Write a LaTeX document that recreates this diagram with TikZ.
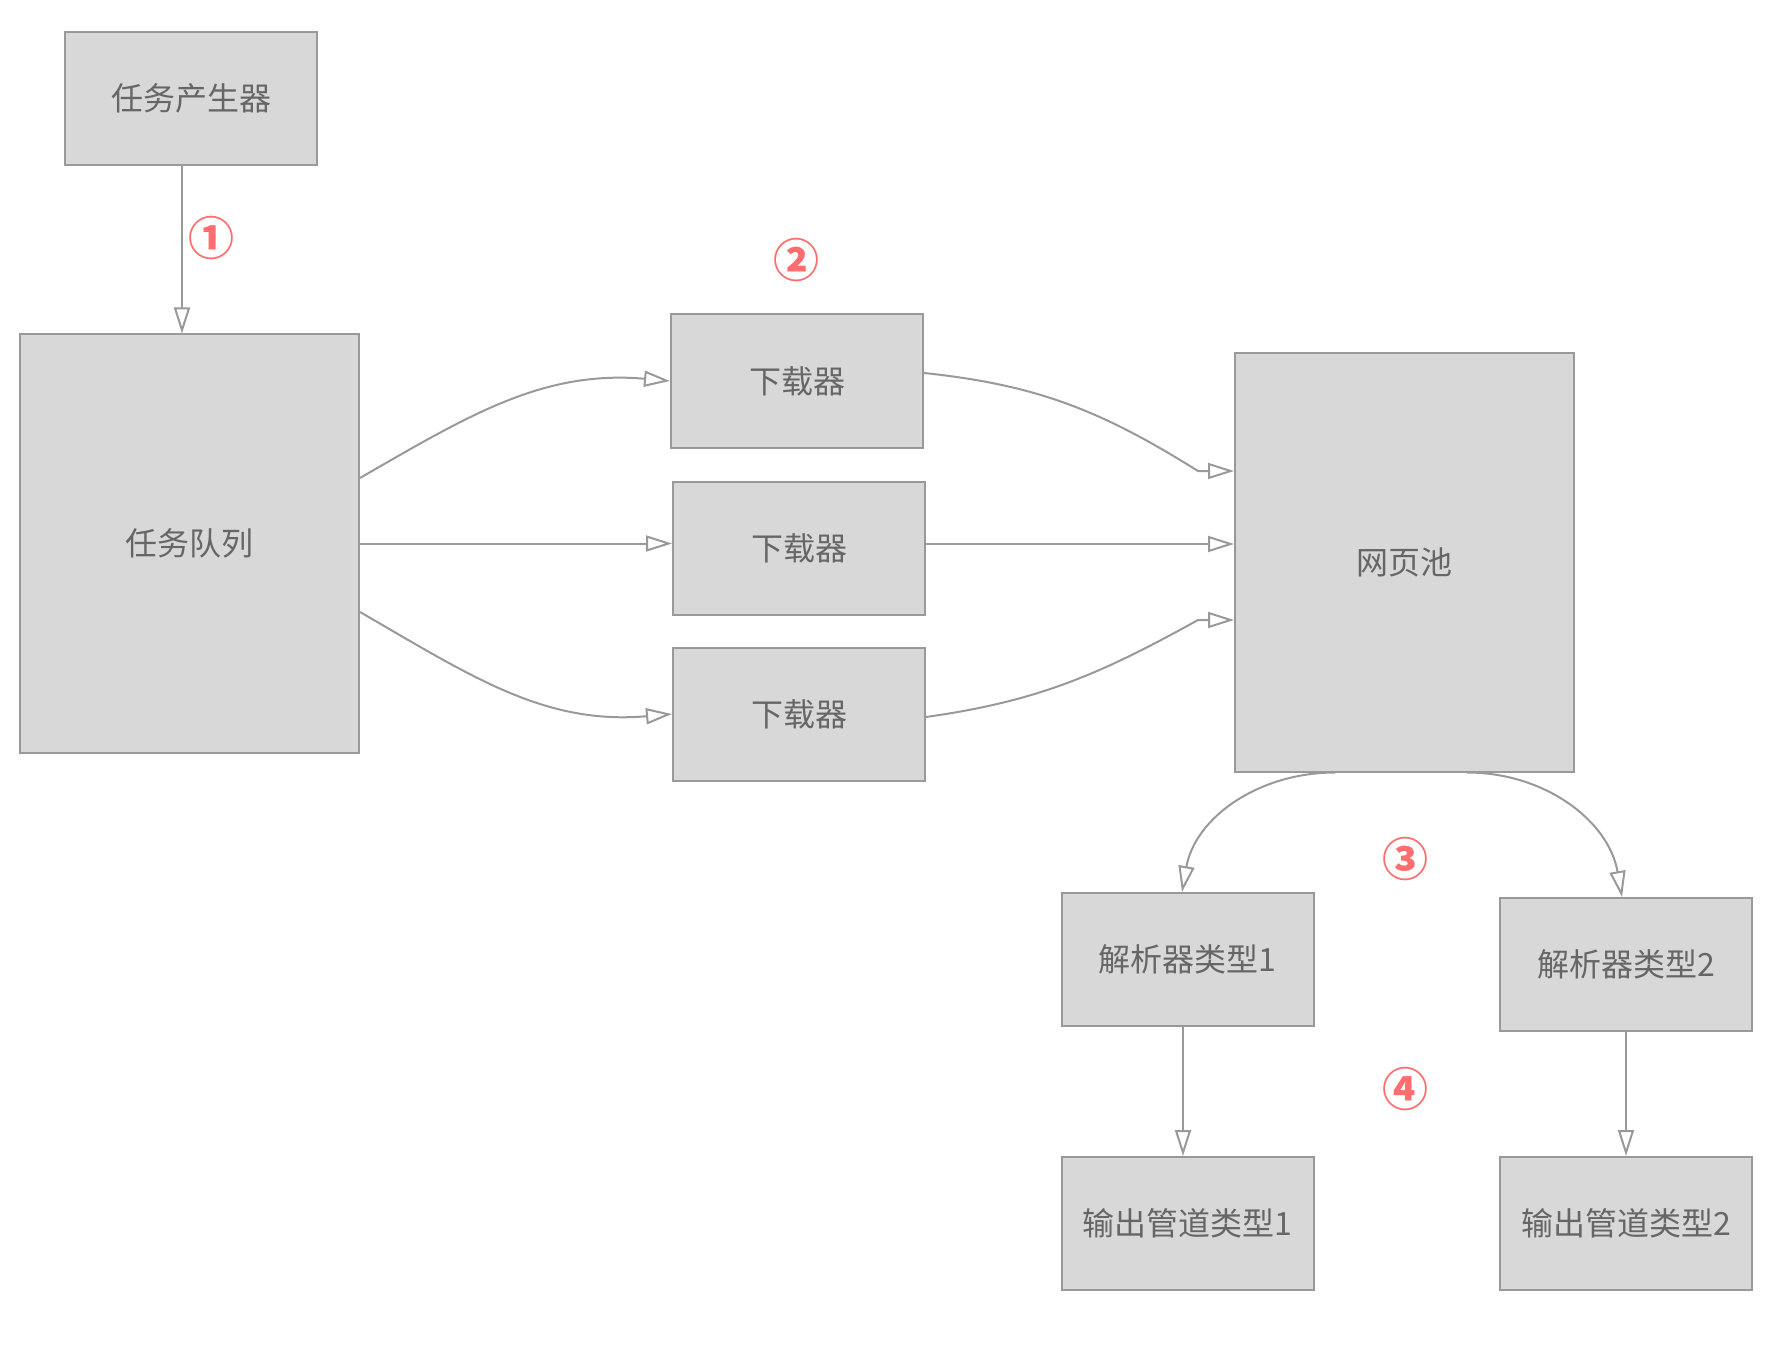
\documentclass[tikz,border=0pt]{standalone}
\usepackage{fontspec}
\setmainfont{Noto Sans CJK SC}
\usetikzlibrary{arrows.meta}
\definecolor{boxfill}{HTML}{D8D8D8}
\definecolor{boxline}{HTML}{999999}
\definecolor{labeltext}{HTML}{666666}
\definecolor{stepred}{HTML}{FF6E6E}

\begin{document}
\begin{tikzpicture}[
    x=0.5pt, y=0.5pt,
    box/.style={
        draw=boxline,
        fill=boxfill,
        line width=1pt,
        text=labeltext,
        font=\fontsize{16}{19}\selectfont,
        minimum width=126pt,
        minimum height=66.5pt,
        inner sep=0pt
    },
    bigbox/.style={box, minimum width=169.5pt, minimum height=209pt},
    flow/.style={draw=boxline, line width=1pt, -{Triangle[open, length=13pt, width=8pt]}},
    stepnum/.style={text=stepred, font=\fontsize{23}{23}\selectfont\bfseries, inner sep=0pt}
]

\useasboundingbox (0,0) rectangle (1782,-1358);

% Task side
\node[box] (gen) at (191,-98.5) {任务产生器};
\node[bigbox] (queue) at (189.5,-543.5) {任务队列};

% Downloaders
\node[box] (dl1) at (797,-381) {下载器};
\node[box] (dl2) at (799,-548.5) {下载器};
\node[box] (dl3) at (799,-714) {下载器};

% Page pool
\node[bigbox] (pool) at (1404.5,-562.5) {网页池};

% Parsers and pipelines
\node[box] (parser1) at (1187.5,-959.5) {解析器类型1};
\node[box] (parser2) at (1626,-964.5) {解析器类型2};
\node[box] (out1) at (1187.5,-1223.5) {输出管道类型1};
\node[box] (out2) at (1626,-1223.5) {输出管道类型2};

% Step numbers
\node[stepnum] (n1) at (211,-238) {①};
\node[stepnum] (n2) at (796,-260) {②};
\node[stepnum] (n3) at (1405,-859) {③};
\node[stepnum] (n4) at (1405,-1089) {④};

% Generator to queue
\draw[flow] (182,0 |- gen.south) -- (182,0 |- queue.north);

% Queue to downloaders
\draw[flow] (queue.east |- 0,-478) to[out=30, in=175] (dl1.west);
\draw[flow] (queue.east) -- (dl2.west |- queue.east);
\draw[flow] (queue.east |- 0,-612) to[out=-30, in=185] (dl3.west);

% Downloaders to pool
\draw[flow] (dl1.east |- 0,-373) to[out=-6, in=148] ([xshift=-18pt]pool.west |- 0,-471) -- (pool.west |- 0,-471);
\draw[flow] (dl2.east |- 0,-544) -- (pool.west |- 0,-544);
\draw[flow] (dl3.east |- 0,-717) to[out=8, in=-151] ([xshift=-18pt]pool.west |- 0,-620) -- (pool.west |- 0,-620);

% Pool to parsers
\draw[flow] (1335,0 |- pool.south) to[out=180, in=80] (1182,0 |- parser1.north);
\draw[flow] (1467,0 |- pool.south) to[out=0, in=100] (1622,0 |- parser2.north);

% Parsers to pipelines
\draw[flow] (1183,0 |- parser1.south) -- (1183,0 |- out1.north);
\draw[flow] (parser2.south) -- (out2.north);

\end{tikzpicture}
\end{document}
